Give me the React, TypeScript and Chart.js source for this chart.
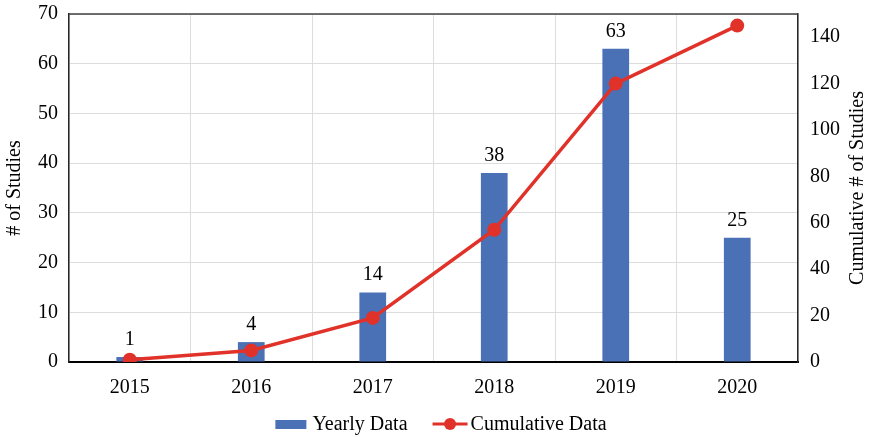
import React, { useEffect, useRef } from "react";
import { Chart, registerables } from "chart.js";

Chart.register(...registerables);

const years = ["2015", "2016", "2017", "2018", "2019", "2020"];
const yearlyStudies = [1, 4, 14, 38, 63, 25];
const cumulativeStudies = [1, 5, 19, 57, 120, 145];
const leftTicks = [0, 10, 20, 30, 40, 50, 60, 70];
const rightTicks = [0, 20, 40, 60, 80, 100, 120, 140];

const FONT = "'Liberation Serif', 'Times New Roman', serif";
const FONT_SIZE = 20;
const BAR_COLOR = "#4A70B5";
const LINE_COLOR = "#E1322A";
const TEXT_COLOR = "#000000";

const framePlugin = {
  id: "frame",
  beforeDatasetsDraw(chart: any) {
    const { ctx, chartArea } = chart;
    ctx.save();
    ctx.strokeStyle = "#404040";
    ctx.lineWidth = 1.5;
    ctx.beginPath();
    ctx.moveTo(chartArea.left, chartArea.top);
    ctx.lineTo(chartArea.right, chartArea.top);
    ctx.stroke();
    ctx.restore();
  },
};

const barLabelPlugin = {
  id: "barLabels",
  afterDatasetsDraw(chart: any) {
    const { ctx } = chart;
    const meta = chart.getDatasetMeta(0);
    ctx.save();
    ctx.font = `${FONT_SIZE}px ${FONT}`;
    ctx.fillStyle = TEXT_COLOR;
    ctx.textAlign = "center";
    ctx.textBaseline = "alphabetic";
    meta.data.forEach((bar: any, i: number) => {
      ctx.fillText(String(yearlyStudies[i]), bar.x, bar.y - 12);
    });
    ctx.restore();
  },
};

const titlesAndLegendPlugin = {
  id: "titlesAndLegend",
  afterDraw(chart: any) {
    const { ctx, chartArea, width } = chart;
    const midY = (chartArea.top + chartArea.bottom) / 2;
    ctx.save();
    ctx.font = `${FONT_SIZE}px ${FONT}`;
    ctx.fillStyle = TEXT_COLOR;
    ctx.textAlign = "center";
    ctx.textBaseline = "middle";

    // axis titles, both reading bottom-to-top
    ctx.save();
    ctx.translate(15, midY);
    ctx.rotate(-Math.PI / 2);
    ctx.fillText("# of Studies", 0, 0);
    ctx.restore();

    ctx.save();
    ctx.translate(width - 11, midY);
    ctx.rotate(-Math.PI / 2);
    ctx.fillText("Cumulative # of Studies", 0, 0);
    ctx.restore();

    // legend
    const labels = chart.data.datasets.map((d: any) => d.label);
    const w1 = ctx.measureText(labels[0]).width;
    const w2 = ctx.measureText(labels[1]).width;
    const boxW = 31;
    const lineW = 35;
    const total = boxW + 6 + w1 + 25 + lineW + 3 + w2;
    let x = 441 - total / 2;
    const y = 424;
    ctx.textAlign = "left";
    ctx.fillStyle = BAR_COLOR;
    ctx.fillRect(x, y - 4, boxW, 9);
    x += boxW + 6;
    ctx.fillStyle = TEXT_COLOR;
    ctx.fillText(labels[0], x, y + 1);
    x += w1 + 25;
    ctx.strokeStyle = LINE_COLOR;
    ctx.lineWidth = 3;
    ctx.beginPath();
    ctx.moveTo(x, y);
    ctx.lineTo(x + lineW, y);
    ctx.stroke();
    ctx.fillStyle = LINE_COLOR;
    ctx.beginPath();
    ctx.arc(x + lineW / 2, y, 6, 0, Math.PI * 2);
    ctx.fill();
    x += lineW + 3;
    ctx.fillStyle = TEXT_COLOR;
    ctx.fillText(labels[1], x, y + 1);
    ctx.restore();
  },
};

export default function App() {
  const canvasRef = useRef<HTMLCanvasElement | null>(null);

  useEffect(() => {
    document.body.style.margin = "0";
    const canvas = canvasRef.current;
    if (!canvas) return;
    const tickFont = { family: FONT, size: FONT_SIZE };
    const chart = new Chart(canvas, {
      type: "bar",
      data: {
        labels: years,
        datasets: [
          {
            type: "bar",
            label: "Yearly Data",
            data: yearlyStudies,
            backgroundColor: BAR_COLOR,
            barPercentage: 0.22,
            categoryPercentage: 1,
            yAxisID: "y",
            order: 1,
          },
          {
            type: "line",
            label: "Cumulative Data",
            data: cumulativeStudies,
            borderColor: LINE_COLOR,
            backgroundColor: LINE_COLOR,
            borderWidth: 3.5,
            pointRadius: 7,
            pointBackgroundColor: LINE_COLOR,
            pointBorderWidth: 0,
            tension: 0,
            yAxisID: "y1",
            order: 0,
          },
        ] as any,
      },
      options: {
        animation: false,
        responsive: false,
        maintainAspectRatio: false,
        layout: { padding: { top: 14, left: 0, right: 0, bottom: 0 } },
        plugins: {
          legend: { display: false },
          tooltip: { enabled: false },
        },
        scales: {
          x: {
            offset: true,
            grid: { display: true, offset: true, color: "#DDDDDD", lineWidth: 1, drawTicks: false },
            border: { display: true, color: "#000000", width: 2 },
            ticks: { color: TEXT_COLOR, font: tickFont, padding: 14 },
            afterFit(scale: any) {
              scale.height = 75;
              scale.paddingLeft = 0;
              scale.paddingRight = 0;
            },
          },
          y: {
            position: "left",
            min: 0,
            max: 70,
            grid: { color: "#DDDDDD", lineWidth: 1, drawTicks: false },
            border: { display: true, color: "#262626", width: 1.5 },
            ticks: { color: TEXT_COLOR, font: tickFont, padding: 11 },
            afterBuildTicks(scale: any) {
              scale.ticks = leftTicks.map((v) => ({ value: v }));
            },
            afterFit(scale: any) {
              scale.width = 69;
              scale.paddingTop = 0;
              scale.paddingBottom = 0;
            },
          },
          y1: {
            position: "right",
            min: 0,
            max: 150,
            grid: { display: false, drawTicks: false },
            border: { display: true, color: "#262626", width: 1.5 },
            ticks: { color: TEXT_COLOR, font: tickFont, padding: 12 },
            afterBuildTicks(scale: any) {
              scale.ticks = rightTicks.map((v) => ({ value: v }));
            },
            afterFit(scale: any) {
              scale.width = 71;
              scale.paddingTop = 0;
              scale.paddingBottom = 0;
            },
          },
        },
      } as any,
      plugins: [framePlugin, barLabelPlugin, titlesAndLegendPlugin],
    });
    return () => chart.destroy();
  }, []);

  return (
    <div style={{ position: "absolute", left: 0, top: 0, width: 869, height: 437, background: "#fff" }}>
      <canvas ref={canvasRef} width={869} height={437} />
    </div>
  );
}
